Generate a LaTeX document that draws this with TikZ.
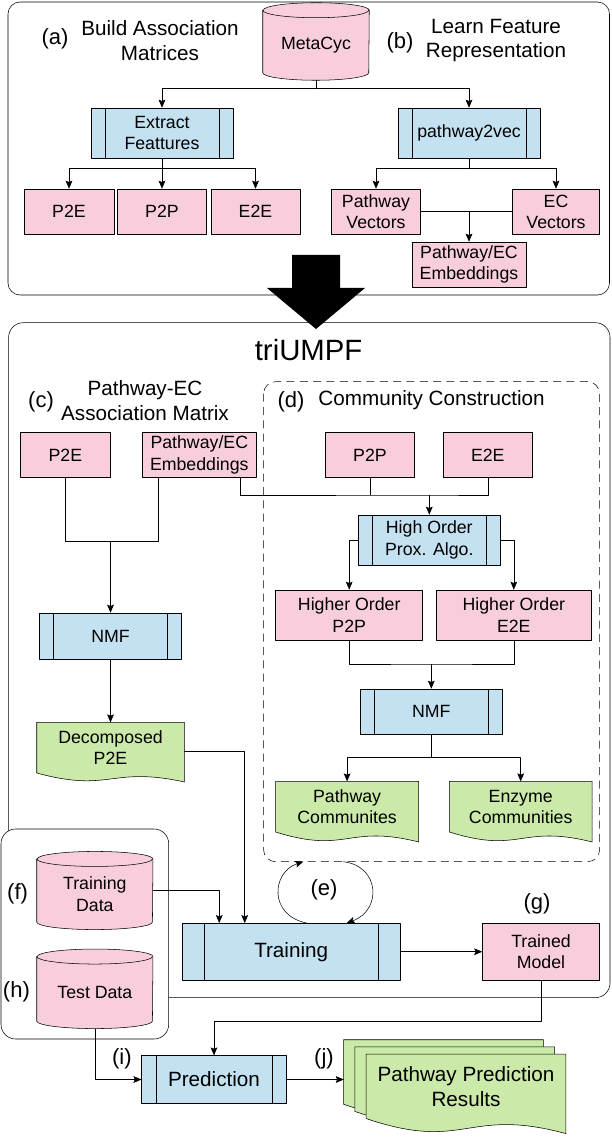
\documentclass[tikz,border=0pt]{standalone}
\usepackage{fontspec}
\setmainfont{Liberation Sans}
\usetikzlibrary{calc,arrows.meta}
\definecolor{pinkfill}{RGB}{248,206,220}
\definecolor{procfill}{RGB}{196,225,241}
\definecolor{docfill}{RGB}{203,233,168}
\newcommand\boxfont{\fontsize{13.3}{15.9}\selectfont}
\newcommand\headfont{\fontsize{15.5}{18.6}\selectfont}
\newcommand\labfont{\fontsize{16.5}{19.8}\selectfont}
\pgfdeclarelayer{frames}\pgfdeclarelayer{shapes}
\pgfsetlayers{frames,shapes,main}
\tikzset{
  sz/.style 2 args={minimum width=#1*0.75pt, minimum height=#2*0.75pt},
  pbox/.style={draw, fill=pinkfill, align=center, font=\boxfont, inner sep=1pt},
  proc/.style={draw, fill=procfill, align=center, font=\boxfont, inner sep=1pt,
    path picture={\draw ($(path picture bounding box.north west)!0.1!(path picture bounding box.north east)$) -- ($(path picture bounding box.south west)!0.1!(path picture bounding box.south east)$)
      ($(path picture bounding box.north west)!0.9!(path picture bounding box.north east)$) -- ($(path picture bounding box.south west)!0.9!(path picture bounding box.south east)$);}},
  doc/.style={align=center, font=\boxfont, inner sep=1pt},
  dbase/.style={align=center, font=\boxfont, inner sep=1pt},
  frame/.style={rounded corners=9pt},
  lab/.style={font=\labfont, inner sep=0pt},
  head/.style={font=\headfont, align=center, inner sep=0pt}
}
\begin{document}
\begin{tikzpicture}[x=0.75pt, y=-0.75pt, line width=0.95pt, line join=round, >={Stealth[length=6pt,width=5pt,inset=1pt]}]
\useasboundingbox (0,0) rectangle (611,1137);
% frames
\begin{pgfonlayer}{frames}
  \draw[frame] (8,2) rectangle (609.5,295);
  \draw[frame, rounded corners=11pt] (8.6,322.7) rectangle (610,997.7);
  \draw[frame, dash pattern=on 6pt off 4pt] (263.6,381.7) rectangle (599.6,861.7);
  \draw[frame, rounded corners=11pt, fill=white] (1,829) rectangle (168.7,1039);
\end{pgfonlayer}
% (a) and (b)
\node[lab] (la) at (55,39) {(a)};
\node[head] (ha) at (160,40.5) {Build Association\\Matrices};
\node[lab] (lb) at (400,43) {(b)};
\node[head] (hb) at (496,40.5) {Learn Feature\\Representation};
\node[dbase, sz={106}{69.5}] (metacyc) at (316,45.25) {MetaCyc};
\node[proc, sz={142}{50}] (extract) at (162,133) {Extract\\Feattures};
\node[proc, sz={142}{50}] (p2v) at (469,133) {pathway2vec};
\node[pbox, sz={90}{45}] (p2e) at (69,211.5) {P2E};
\node[pbox, sz={89}{45}] (p2p) at (162,211.5) {P2P};
\node[pbox, sz={89}{45}] (e2e) at (255.5,211.5) {E2E};
\node[pbox, sz={88.5}{45}] (pvec) at (376,211.5) {Pathway\\Vectors};
\node[pbox, sz={87.5}{45}] (ecvec) at (556,211.5) {EC\\Vectors};
\node[pbox, sz={114}{45}] (emb) at (469,264.5) {Pathway/EC\\Embeddings};
\draw[->] (metacyc.south) -- ++(0,8) -| (extract.north);
\draw[->] (metacyc.south) -- ++(0,8) -| (p2v.north);
\draw[->] (extract.south) -- ++(0,10) -| (p2e.north);
\draw[->] (extract.south) -- ++(0,10) -| (e2e.north);
\draw[->] (extract.south) -- (p2p.north);
\draw[->] (p2v.south) -- ++(0,10) -| (pvec.north);
\draw[->] (p2v.south) -- ++(0,10) -| (ecvec.north);
\draw (pvec.east) -- (ecvec.west);
\draw[->] (emb.north |- pvec.east) -- (emb.north);
% big arrow
\fill (292,255) -- (340,255) -- (340,288) -- (365,288) -- (316,329) -- (267,288) -- (292,288) -- cycle;
% triUMPF
\node[font=\fontsize{22}{26}\selectfont, inner sep=0pt] (title) at (308.6,350) {triUMPF};
\node[lab] (lc) at (41,401.7) {(c)};
\node[head] (hc) at (145,400.5) {Pathway-EC\\Association Matrix};
\node[lab] (ld) at (291,401.7) {(d)};
\node[head] (hd) at (431.6,400) {Community Construction};
\node[pbox, sz={89.5}{44.6}] (p2eb) at (65.4,455) {P2E};
\node[pbox, sz={114.6}{44.6}] (embb) at (199.3,455) {Pathway/EC\\Embeddings};
\node[pbox, sz={89}{44.6}] (p2pb) at (370,455) {P2P};
\node[pbox, sz={88.5}{44.6}] (e2eb) at (487.8,455) {E2E};
\node[proc, sz={142.5}{50}] (hopa) at (429.3,540) {High Order\\Prox. Algo.};
\node[pbox, sz={147}{50}] (hop2p) at (349.2,615) {Higher Order\\P2P};
\node[pbox, sz={155.5}{50}] (hoe2e) at (513.8,615) {Higher Order\\E2E};
\node[proc, sz={142}{46}] (nmfc) at (110.5,636) {NMF};
\node[proc, sz={142.6}{45}] (nmfd) at (431.3,711.5) {NMF};
\node[doc, sz={147}{50}] (decomp) at (110.5,747.7) {Decomposed\\P2E};
\node[doc, sz={142.6}{50}] (pcomm) at (347.1,806.7) {Pathway\\Communites};
\node[doc, sz={142.2}{50}] (ecomm) at (520.7,806.7) {Enzyme\\Communities};
\node[dbase, sz={115.7}{70.1}] (traindata) at (94.85,894.25) {Training\\Data};
\node[dbase, sz={115.7}{71.5}] (testdata) at (94.85,992.55) {Test Data};
\node[proc, sz={218.4}{56.7}, font=\headfont] (training) at (291.2,951.7) {Training};
\node[pbox, sz={117}{56.7}] (trained) at (541,951.7) {Trained\\Model};
\node[proc, sz={144.5}{47.6}, font=\headfont] (pred) at (214,1079.5) {Prediction};
\node[doc, sz={199.2}{64}, font=\headfont] (res) at (466,1086.3) {Pathway Prediction\\Results};
\node[lab] (le) at (324,890) {(e)};
\node[lab] (lf) at (17.6,893.3) {(f)};
\node[lab] (lg) at (537,904) {(g)};
\node[lab] (lh) at (16.4,991.7) {(h)};
\node[lab] (li) at (121.9,1058.3) {(i)};
\node[lab] (lj) at (324,1058.3) {(j)};
% shapes behind the texts
\begin{pgfonlayer}{shapes}
  \foreach \n/\rx in {metacyc/53, traindata/57.85, testdata/57.85}{
    \draw[fill=pinkfill] (\n.north west) -- ($(\n.south west)+(0,-7.5)$)
      arc[start angle=180, end angle=360, x radius=\rx*0.75pt, y radius=5.625pt]
      -- (\n.north east) arc[start angle=0, end angle=180, x radius=\rx*0.75pt, y radius=5.625pt] -- cycle;
    \draw (\n.north west) arc[start angle=180, end angle=360, x radius=\rx*0.75pt, y radius=5.625pt];
  }
  \foreach \k in {2,1}
    \draw[fill=docfill] ($(res.north west)+(-11.3*\k,-7.15*\k)$) -- ($(res.north east)+(-11.3*\k,-7.15*\k)$)
      -- ($(res.south east)+(-11.3*\k,15-7.15*\k)$)
      .. controls ($(res.south)+(-11.3*\k,-12-7.15*\k)$) and ($(res.south)+(-11.3*\k,33.75-7.15*\k)$)
      .. ($(res.south west)+(-11.3*\k,-7.15*\k)$) -- cycle;
  \foreach \n/\d in {decomp/9, pcomm/10, ecomm/10, res/15}
    \draw[fill=docfill] (\n.north west) -- (\n.north east) -- ($(\n.south east)+(0,\d)$)
      .. controls ($(\n.south)+(0,-0.8*\d)$) and ($(\n.south)+(0,2.25*\d)$) .. (\n.south west) -- cycle;
\end{pgfonlayer}
% connectors
\coordinate (cjoin) at (110.5,541.7);
\draw (p2eb.south) |- (cjoin);
\draw ($(embb.south)+(-41.3,0)$) |- (cjoin);
\draw[->] (cjoin) -- (nmfc.north);
\coordinate (djoin) at (429.3,495);
\draw ($(embb.south)+(40.7,0)$) |- (djoin) -| (e2eb.south);
\draw (p2pb.south) -- (p2pb.south |- djoin);
\draw[->] (djoin) -- (hopa.north);
\draw[->] (hopa.west) -| (hop2p.north);
\draw[->] (hopa.east) -| (hoe2e.north);
\coordinate (djoin2) at (431.3,664);
\draw (hop2p.south) |- (djoin2) -| (hoe2e.south);
\draw[->] (djoin2) -- (nmfd.north);
\draw[->] (nmfd.south) -- ++(0,23.3) -| (pcomm.north);
\draw[->] (nmfd.south) -- ++(0,23.3) -| (ecomm.north);
\draw[->] (nmfc.south) -- (decomp.north);
\draw[->] ($(decomp.east)+(0,4)$) -| ($(training.north west)+(63,0)$);
\draw[->] ($(traindata.east)+(0,-4)$) -| ($(training.north west)+(37.5,0)$);
\draw[->] ($(training.north)+(15.5,0)$) .. controls (268,915) and (272,872) .. (303.3,861.7);
\draw[->] (343.3,861.7) .. controls (380,866) and (382,910) .. ($(training.north)+(55.5,0)$);
\draw[->] (training.east) -- (trained.west);
\coordinate (pjoin) at (214,1021.7);
\draw[->] (trained.south) |- (pjoin) -- (pred.north);
\draw[->] (testdata.south) |- (pred.west);
\coordinate (resin) at (343.8,1079.5);
\draw[->] (pred.east) -- (resin);
\end{tikzpicture}
\end{document}
